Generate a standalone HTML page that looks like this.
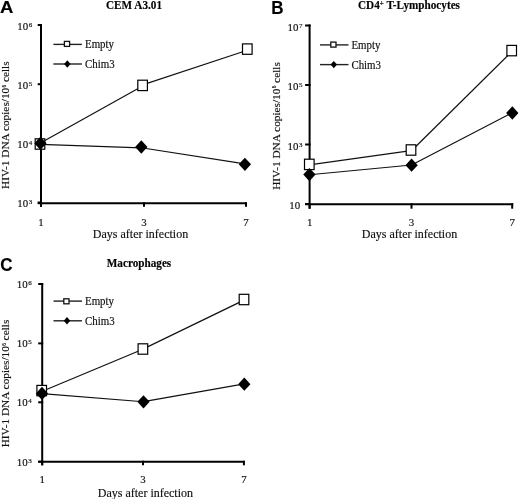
<!DOCTYPE html>
<html><head><meta charset="utf-8"><style>
html,body{margin:0;padding:0;background:#fff;}
body{width:520px;height:499px;overflow:hidden;}
svg{display:block;will-change:transform;}
text{font-family:"Liberation Serif",serif;fill:#111;stroke:#111;stroke-width:0.16px;}
.t{font-size:10.9px;}
.ax{font-size:12px;}
.yl{font-size:11.3px;}
.sup{font-size:7.0px;}
.ysup{font-size:5.2px;}
.lg{font-size:10.9px;}
.ti{font-weight:bold;font-size:11.2px;fill:#000;}
.pl{font-family:"Liberation Sans",sans-serif;font-weight:bold;font-size:17px;fill:#000;}
</style></head><body>
<svg width="520" height="499" viewBox="0 0 520 499">

<text transform="translate(0.1 13) scale(1.09 1)" class="pl">A</text>
<text transform="translate(271.2 13.9) scale(1 1.05)" class="pl">B</text>
<text transform="translate(0.2 271.1) scale(1 1.03)" class="pl">C</text>

<line x1="41" y1="24.0" x2="41" y2="206.7" stroke="#000" stroke-width="2.0"/>
<line x1="37.7" y1="203.2" x2="247" y2="203.2" stroke="#000" stroke-width="2.0"/>
<line x1="37.7" y1="25" x2="42.0" y2="25" stroke="#000" stroke-width="2.0"/>
<line x1="37.7" y1="84.2" x2="42.0" y2="84.2" stroke="#000" stroke-width="2.0"/>
<line x1="37.7" y1="143.3" x2="42.0" y2="143.3" stroke="#000" stroke-width="2.0"/>
<line x1="37.7" y1="202.5" x2="42.0" y2="202.5" stroke="#000" stroke-width="2.0"/>
<line x1="41" y1="202.2" x2="41" y2="206.7" stroke="#000" stroke-width="2.0"/>
<line x1="144" y1="202.2" x2="144" y2="206.7" stroke="#000" stroke-width="2.0"/>
<line x1="246" y1="202.2" x2="246" y2="206.7" stroke="#000" stroke-width="2.0"/>
<text x="32.3" y="30.0" text-anchor="end" class="t">10<tspan class="sup" dx="0.6" dy="-3.3">6</tspan></text>
<text x="32.3" y="89.2" text-anchor="end" class="t">10<tspan class="sup" dx="0.6" dy="-3.3">5</tspan></text>
<text x="32.3" y="148.3" text-anchor="end" class="t">10<tspan class="sup" dx="0.6" dy="-3.3">4</tspan></text>
<text x="32.3" y="207.3" text-anchor="end" class="t">10<tspan class="sup" dx="0.6" dy="-3.3">3</tspan></text>
<text x="41" y="225.9" text-anchor="middle" class="t">1</text>
<text x="144" y="225.9" text-anchor="middle" class="t">3</text>
<text x="246" y="225.9" text-anchor="middle" class="t">7</text>
<text x="140.5" y="238" text-anchor="middle" class="ax">Days after infection</text>
<text transform="translate(134 9.2) scale(1 1.06)" text-anchor="middle" class="ti">CEM A3.01</text>
<text transform="translate(9.4 125.2) rotate(-90)" text-anchor="middle" class="yl">HIV-1 DNA copies/10<tspan class="ysup" dx="0.3" dy="-3.6">6</tspan><tspan dy="3.6"> cells</tspan></text>
<line x1="53.4" y1="44.4" x2="81.9" y2="44.4" stroke="#222" stroke-width="1.4"/>
<rect x="64.40" y="41.40" width="5.2" height="5.0" fill="#fff" stroke="#111" stroke-width="1.3"/>
<text transform="translate(85.0 47.90) scale(1 1.07)" class="lg">Empty</text>
<line x1="53.4" y1="64" x2="81.9" y2="64" stroke="#222" stroke-width="1.4"/>
<path d="M67.3 60.3L70.5 64L67.3 67.7L64.1 64Z" fill="#000"/>
<text transform="translate(85.0 67.80) scale(1 1.07)" class="lg">Chim3</text>
<polyline points="40.00,143.20 142.60,85.96" fill="none" stroke="#111" stroke-width="1.2"/>
<polyline points="142.60,84.84 247.30,50.25" fill="none" stroke="#111" stroke-width="1.2"/>
<polyline points="40.40,144.41 141.30,147.79" fill="none" stroke="#111" stroke-width="1.2"/>
<polyline points="141.30,147.72 244.90,163.86" fill="none" stroke="#111" stroke-width="1.2"/>
<rect x="35.20" y="138.80" width="9.60" height="10.40" fill="#fff" stroke="#000" stroke-width="1.2"/>
<rect x="137.80" y="80.20" width="9.60" height="10.40" fill="#fff" stroke="#000" stroke-width="1.2"/>
<rect x="242.50" y="43.90" width="9.60" height="10.40" fill="#fff" stroke="#000" stroke-width="1.2"/>
<path d="M40.40 136.65L46.55 143.30L40.40 149.95L34.25 143.30Z" fill="#000"/>
<path d="M141.30 140.35L147.45 147.00L141.30 153.65L135.15 147.00Z" fill="#000"/>
<path d="M244.90 157.65L251.05 164.30L244.90 170.95L238.75 164.30Z" fill="#000"/>
<line x1="309.6" y1="24.5" x2="309.6" y2="208.7" stroke="#000" stroke-width="2.0"/>
<line x1="305.1" y1="204.2" x2="513.2" y2="204.2" stroke="#000" stroke-width="2.0"/>
<line x1="305.1" y1="25.5" x2="310.6" y2="25.5" stroke="#000" stroke-width="2.0"/>
<line x1="305.1" y1="85" x2="310.6" y2="85" stroke="#000" stroke-width="2.0"/>
<line x1="305.1" y1="144.5" x2="310.6" y2="144.5" stroke="#000" stroke-width="2.0"/>
<line x1="305.1" y1="204" x2="310.6" y2="204" stroke="#000" stroke-width="2.0"/>
<line x1="309.6" y1="203.2" x2="309.6" y2="208.7" stroke="#000" stroke-width="2.0"/>
<line x1="411.5" y1="203.2" x2="411.5" y2="208.7" stroke="#000" stroke-width="2.0"/>
<line x1="512.2" y1="203.2" x2="512.2" y2="208.7" stroke="#000" stroke-width="2.0"/>
<text x="302.6" y="30.5" text-anchor="end" class="t">10<tspan class="sup" dx="0.6" dy="-2.9">7</tspan></text>
<text x="302.6" y="90.0" text-anchor="end" class="t">10<tspan class="sup" dx="0.6" dy="-2.9">5</tspan></text>
<text x="302.6" y="149.5" text-anchor="end" class="t">10<tspan class="sup" dx="0.6" dy="-2.9">3</tspan></text>
<text x="300.2" y="209.0" text-anchor="end" class="t">10</text>
<text x="309.8" y="226.3" text-anchor="middle" class="t">1</text>
<text x="411.5" y="226.3" text-anchor="middle" class="t">3</text>
<text x="512.2" y="226.3" text-anchor="middle" class="t">7</text>
<text x="409.5" y="238.3" text-anchor="middle" class="ax">Days after infection</text>
<text transform="translate(409 8.9) scale(1 1.06)" text-anchor="middle" class="ti">CD4<tspan class="sup" dy="-2.5">+</tspan><tspan dy="2.5"> T-Lymphocytes</tspan></text>
<text transform="translate(279.9 126) rotate(-90)" text-anchor="middle" class="yl">HIV-1 DNA copies/10<tspan class="ysup" dx="0.3" dy="-3.6">6</tspan><tspan dy="3.6"> cells</tspan></text>
<line x1="320" y1="44.9" x2="348.5" y2="44.9" stroke="#222" stroke-width="1.4"/>
<rect x="330.80" y="42.10" width="5.2" height="5.0" fill="#fff" stroke="#111" stroke-width="1.3"/>
<text transform="translate(351.4 48.80) scale(1 1.07)" class="lg">Empty</text>
<line x1="320" y1="64.6" x2="348.5" y2="64.6" stroke="#222" stroke-width="1.4"/>
<path d="M333.8 60.89999999999999L337.0 64.6L333.8 68.3L330.6 64.6Z" fill="#000"/>
<text transform="translate(351.4 68.50) scale(1 1.07)" class="lg">Chim3</text>
<polyline points="309.30,164.87 411.00,150.69" fill="none" stroke="#111" stroke-width="1.2"/>
<polyline points="411.00,151.30 511.80,51.59" fill="none" stroke="#111" stroke-width="1.2"/>
<polyline points="309.40,174.74 411.60,164.98" fill="none" stroke="#111" stroke-width="1.2"/>
<polyline points="411.60,165.05 512.30,112.67" fill="none" stroke="#111" stroke-width="1.2"/>
<rect x="304.50" y="159.20" width="9.60" height="10.40" fill="#fff" stroke="#000" stroke-width="1.2"/>
<rect x="406.20" y="144.80" width="9.60" height="10.40" fill="#fff" stroke="#000" stroke-width="1.2"/>
<rect x="506.90" y="45.40" width="9.60" height="10.40" fill="#fff" stroke="#000" stroke-width="1.2"/>
<path d="M309.40 167.95L315.55 174.60L309.40 181.25L303.25 174.60Z" fill="#000"/>
<path d="M411.60 158.55L417.75 165.20L411.60 171.85L405.45 165.20Z" fill="#000"/>
<path d="M512.30 106.35L518.45 113.00L512.30 119.65L506.15 113.00Z" fill="#000"/>
<line x1="42.2" y1="283.0" x2="42.2" y2="465.3" stroke="#000" stroke-width="2.0"/>
<line x1="38.2" y1="461.8" x2="244.9" y2="461.8" stroke="#000" stroke-width="2.0"/>
<line x1="38.2" y1="284" x2="43.2" y2="284" stroke="#000" stroke-width="2.0"/>
<line x1="38.2" y1="343.4" x2="43.2" y2="343.4" stroke="#000" stroke-width="2.0"/>
<line x1="38.2" y1="402.3" x2="43.2" y2="402.3" stroke="#000" stroke-width="2.0"/>
<line x1="38.2" y1="461.7" x2="43.2" y2="461.7" stroke="#000" stroke-width="2.0"/>
<line x1="42.2" y1="460.8" x2="42.2" y2="465.3" stroke="#000" stroke-width="2.0"/>
<line x1="143" y1="460.8" x2="143" y2="465.3" stroke="#000" stroke-width="2.0"/>
<line x1="243.9" y1="460.8" x2="243.9" y2="465.3" stroke="#000" stroke-width="2.0"/>
<text x="31.8" y="287.8" text-anchor="end" class="t">10<tspan class="sup" dx="0.6" dy="-3.0">6</tspan></text>
<text x="31.8" y="347.0" text-anchor="end" class="t">10<tspan class="sup" dx="0.6" dy="-3.0">5</tspan></text>
<text x="31.8" y="406.3" text-anchor="end" class="t">10<tspan class="sup" dx="0.6" dy="-3.0">4</tspan></text>
<text x="31.8" y="465.5" text-anchor="end" class="t">10<tspan class="sup" dx="0.6" dy="-3.0">3</tspan></text>
<text x="42.2" y="483" text-anchor="middle" class="t">1</text>
<text x="143" y="483" text-anchor="middle" class="t">3</text>
<text x="243.9" y="483" text-anchor="middle" class="t">7</text>
<text x="145.4" y="496.5" text-anchor="middle" class="ax">Days after infection</text>
<text transform="translate(139 266.7) scale(1 1.06)" text-anchor="middle" class="ti">Macrophages</text>
<text transform="translate(9.4 383.5) rotate(-90)" text-anchor="middle" class="yl">HIV-1 DNA copies/10<tspan class="ysup" dx="0.3" dy="-3.6">6</tspan><tspan dy="3.6"> cells</tspan></text>
<line x1="53.5" y1="301.1" x2="82.0" y2="301.1" stroke="#222" stroke-width="1.4"/>
<rect x="63.80" y="298.80" width="5.2" height="5.0" fill="#fff" stroke="#111" stroke-width="1.3"/>
<text transform="translate(85.0 305.40) scale(1 1.07)" class="lg">Empty</text>
<line x1="53.5" y1="320.8" x2="82.0" y2="320.8" stroke="#222" stroke-width="1.4"/>
<path d="M67 317.1L70.2 320.8L67 324.5L63.8 320.8Z" fill="#000"/>
<text transform="translate(85.0 324.60) scale(1 1.07)" class="lg">Chim3</text>
<polyline points="41.70,391.47 142.90,349.25" fill="none" stroke="#111" stroke-width="1.2"/>
<polyline points="142.90,349.16 244.00,300.16" fill="none" stroke="#111" stroke-width="1.2"/>
<polyline points="42.00,393.71 143.50,401.76" fill="none" stroke="#111" stroke-width="1.2"/>
<polyline points="143.50,401.61 244.30,383.81" fill="none" stroke="#111" stroke-width="1.2"/>
<rect x="36.90" y="385.40" width="9.60" height="10.40" fill="#fff" stroke="#000" stroke-width="1.2"/>
<rect x="138.10" y="343.80" width="9.60" height="10.40" fill="#fff" stroke="#000" stroke-width="1.2"/>
<rect x="239.20" y="294.30" width="9.60" height="10.40" fill="#fff" stroke="#000" stroke-width="1.2"/>
<path d="M42.00 386.75L48.15 393.40L42.00 400.05L35.85 393.40Z" fill="#000"/>
<path d="M143.50 395.15L149.65 401.80L143.50 408.45L137.35 401.80Z" fill="#000"/>
<path d="M244.30 377.55L250.45 384.20L244.30 390.85L238.15 384.20Z" fill="#000"/>
</svg>
</body></html>
